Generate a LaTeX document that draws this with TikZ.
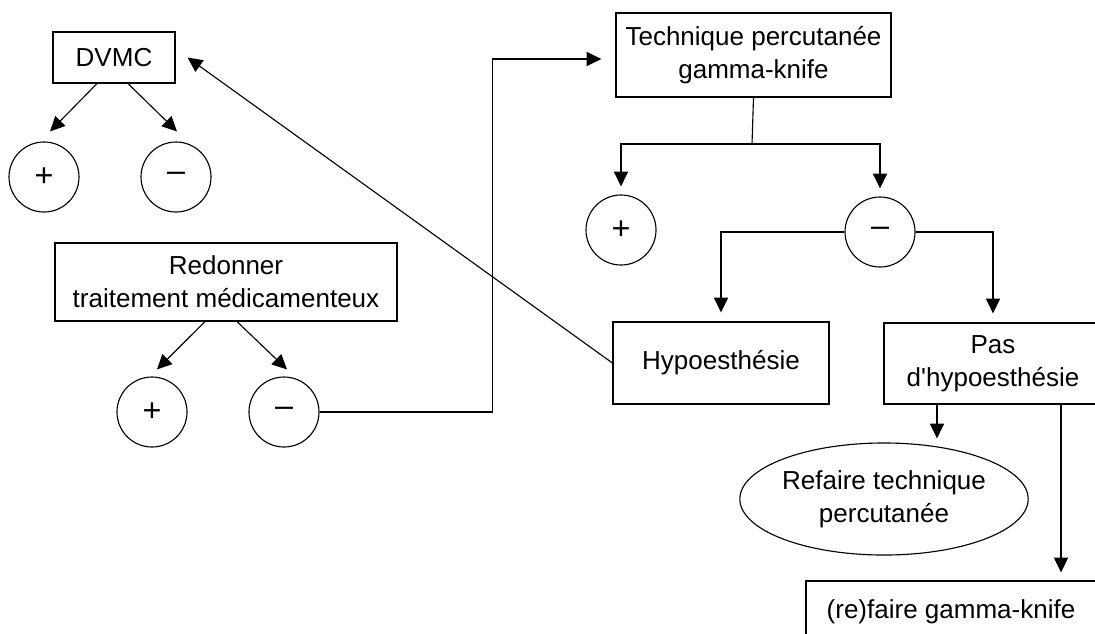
\documentclass[tikz,border=0pt]{standalone}
\usepackage{fontspec}
\setmainfont{Liberation Sans}
\usetikzlibrary{arrows.meta,shapes.geometric}

\begin{document}
\begin{tikzpicture}[
    x=0.025cm, y=-0.025cm,
    txt/.style={font=\fontsize{18.5}{23.5}\selectfont},
    box/.style={txt, rectangle, draw, line width=0.8pt, align=center, inner sep=2pt},
    circ/.style={font=\fontsize{23}{23}\selectfont, circle, draw, line width=0.8pt, minimum size=1.75cm, inner sep=0pt},
    oval/.style={txt, ellipse, draw, line width=0.8pt, minimum width=6.6cm, minimum height=2.8cm, align=center, inner sep=0pt},
    arrow/.style={-{Triangle[length=10.5pt, width=10pt]}, line width=0.8pt},
    line/.style={line width=0.8pt}
]
\path[use as bounding box, clip] (0,0) rectangle (1095,633);

% Boxes
\node[box, minimum width=3.05cm, minimum height=1.275cm] (dvmc) at (114,57.5) {DVMC};
\node[box, minimum width=6.875cm, minimum height=2.1cm] (tech) at (753.5,55) {Technique percutanée\\gamma-knife};
\node[box, minimum width=8.55cm, minimum height=1.95cm] (redo) at (226,282) {Redonner\\traitement médicamenteux};
\node[box, minimum width=5.4cm, minimum height=2.05cm] (hypo) at (721,363) {Hypoesthésie};
\node[box, minimum width=5.45cm, minimum height=2.025cm] (nohypo) at (993,363.5) {Pas\\d\textquotesingle hypoesthésie};
\node[oval] (again) at (884,499) {Refaire technique\\percutanée};
\node[box, minimum width=7.25cm, minimum height=1.55cm] (gamma) at (951,612) {(re)faire gamma-knife};

% Circles
\node[circ] (dvmcplus) at (44,177) {+};
\node[circ] (dvmcminus) at (176,177) {–};
\node[circ] (techplus) at (621,230) {+};
\node[circ] (techminus) at (880,232) {–};
\node[circ] (redoplus) at (152,412) {+};
\node[circ] (redominus) at (284,412) {–};

% Arrows
\draw[arrow] ([xshift=-0.425cm]dvmc.south) -- ([shift={(0.15cm,0.25cm)}]dvmcplus.north);
\draw[arrow] ([xshift=0.35cm]dvmc.south) -- ([shift={(0.025cm,0.25cm)}]dvmcminus.north);
\draw[arrow] ([xshift=-0.525cm]redo.south) -- ([shift={(0.125cm,0.175cm)}]redoplus.north);
\draw[arrow] ([xshift=0.275cm]redo.south) -- ([shift={(0.075cm,0.175cm)}]redominus.north);

\coordinate (split) at (752,144);
\draw[line] (tech.south) -- (split);
\draw[arrow, shorten >=0.2cm] (split) -| (techplus.north);
\draw[arrow, shorten >=0.2cm] (split) -| (techminus.north);

\draw[arrow, shorten >=0.225cm] (techminus.west) -| (hypo.north);
\draw[arrow, shorten >=0.225cm] (techminus.east) -| (nohypo.north);

\draw[arrow] (redominus.east) -| ([shift={(-3.075cm,-0.1cm)}]tech.west) -- ([shift={(-0.35cm,-0.1cm)}]tech.west);
\draw[arrow] (hypo.west) -- ([xshift=0.3cm]dvmc.east);

\draw[arrow, shorten >=0.1cm] ([xshift=-1.4cm]nohypo.south) -- ([xshift=-1.4cm]nohypo.south |- again.north);
\draw[arrow, shorten >=0.2cm] ([xshift=1.7cm]nohypo.south) -- ([xshift=1.7cm]nohypo.south |- gamma.north);

\end{tikzpicture}
\end{document}
